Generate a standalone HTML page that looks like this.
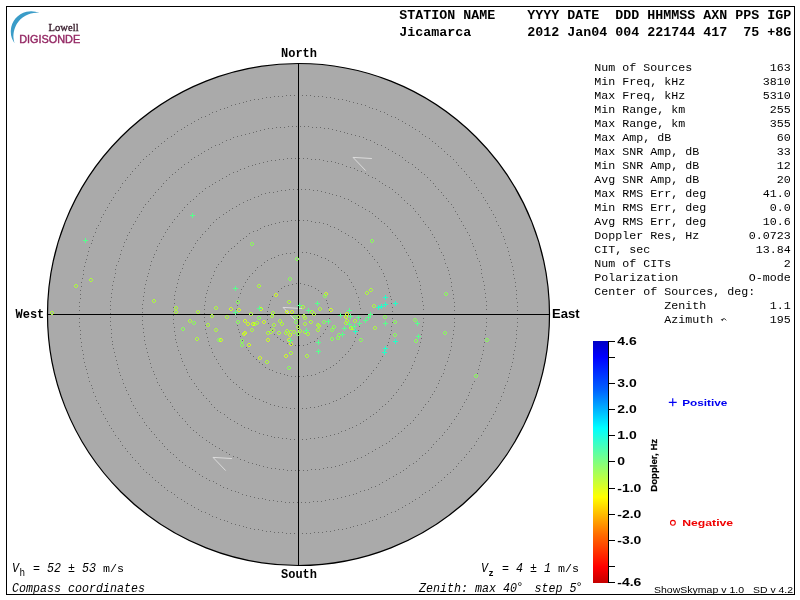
<!DOCTYPE html>
<html><head><meta charset="utf-8"><title>Skymap</title>
<style>
html,body{margin:0;padding:0;background:#fff;}
body{width:800px;height:600px;overflow:hidden;}
svg{display:block;}
text{font-family:"Liberation Mono",monospace;fill:#000;}
.hb{font-weight:bold;font-size:13.1px;}
.st{font-size:11.8px;}
.it{font-style:italic;font-size:12.9px;}
.cb{font-weight:bold;font-size:13.2px;}
.sb{font-family:"Liberation Sans",sans-serif;font-weight:bold;}
.ss{font-family:"Liberation Sans",sans-serif;}
.se{font-family:"Liberation Serif",serif;}
</style></head><body>
<svg width="800" height="600" viewBox="0 0 800 600">
<defs>
<linearGradient id="cb" x1="0" y1="0" x2="0" y2="1">
<stop offset="0" stop-color="#0000c4"/>
<stop offset="0.066" stop-color="#0000ff"/>
<stop offset="0.2" stop-color="#0060ff"/>
<stop offset="0.36" stop-color="#00ffff"/>
<stop offset="0.5" stop-color="#80ff80"/>
<stop offset="0.645" stop-color="#ffff00"/>
<stop offset="0.8" stop-color="#ff6c00"/>
<stop offset="0.934" stop-color="#ff0000"/>
<stop offset="1" stop-color="#c40000"/>
</linearGradient>
</defs>
<rect x="0" y="0" width="800" height="600" fill="#fff"/>
<g style="will-change:transform">
<rect x="6.5" y="6.5" width="788" height="588" fill="none" stroke="#000" stroke-width="1" shape-rendering="crispEdges"/>
<path d="M39.5,13 A20.3,20.3 0 0 0 14.5,43.2 A23.3,23.3 0 0 1 39.5,13 Z" fill="#3a9cc8"/>
<text class="se" x="48.6" y="30.6" font-size="10.6" style="fill:#341828;stroke:#341828;stroke-width:0.3px" textLength="30" lengthAdjust="spacingAndGlyphs">Lowell</text>
<text class="ss" x="19.2" y="42.6" font-size="10.6" style="fill:#942864;stroke:#942864;stroke-width:0.4px" textLength="61" lengthAdjust="spacingAndGlyphs">DIGISONDE</text>
<circle cx="298.5" cy="314.5" r="251.0" fill="#aaaaaa" stroke="#000" stroke-width="1.2"/>
<path d="M329,314.5h1M329,318.5h1M328,322.5h1M327,326.5h1M325,329.5h1M323,333.5h1M320,336.5h1M317,338.5h1M314,341.5h1M310,342.5h1M307,344.5h1M303,345.5h1M299,345.5h1M295,345.5h1M291,344.5h1M287,343.5h1M283,341.5h1M280,339.5h1M277,337.5h1M274,334.5h1M272,330.5h1M270,327.5h1M268,323.5h1M267,319.5h1M267,315.5h1M267,311.5h1M268,307.5h1M269,304.5h1M270,300.5h1M272,296.5h1M275,293.5h1M278,291.5h1M281,288.5h1M284,286.5h1M288,285.5h1M292,284.5h1M296,283.5h1M300,283.5h1M304,284.5h1M308,285.5h1M311,286.5h1M315,288.5h1M318,290.5h1M321,293.5h1M323,296.5h1M326,300.5h1M327,303.5h1M328,307.5h1M329,311.5h1M360,314.5h1M360,318.5h1M359,322.5h1M359,326.5h1M358,330.5h1M357,334.5h1M355,337.5h1M354,341.5h1M352,345.5h1M350,348.5h1M348,351.5h1M345,354.5h1M342,357.5h1M339,360.5h1M336,363.5h1M333,365.5h1M330,367.5h1M326,369.5h1M323,371.5h1M319,372.5h1M315,374.5h1M311,375.5h1M307,375.5h1M303,376.5h1M299,376.5h1M295,376.5h1M291,376.5h1M287,375.5h1M284,374.5h1M280,373.5h1M276,372.5h1M272,370.5h1M269,369.5h1M265,367.5h1M262,364.5h1M259,362.5h1M256,359.5h1M253,356.5h1M250,353.5h1M248,350.5h1M246,347.5h1M243,344.5h1M242,340.5h1M240,336.5h1M239,332.5h1M238,329.5h1M237,325.5h1M236,321.5h1M236,317.5h1M236,313.5h1M236,309.5h1M237,305.5h1M237,301.5h1M238,297.5h1M240,293.5h1M241,289.5h1M243,286.5h1M245,282.5h1M247,279.5h1M249,276.5h1M252,273.5h1M255,270.5h1M257,267.5h1M261,265.5h1M264,262.5h1M267,260.5h1M271,258.5h1M274,257.5h1M278,255.5h1M282,254.5h1M286,253.5h1M290,253.5h1M294,252.5h1M298,252.5h1M302,252.5h1M306,252.5h1M310,253.5h1M314,254.5h1M317,255.5h1M321,257.5h1M325,258.5h1M328,260.5h1M332,262.5h1M335,264.5h1M338,267.5h1M341,270.5h1M344,272.5h1M347,275.5h1M349,279.5h1M351,282.5h1M353,286.5h1M355,289.5h1M356,293.5h1M358,297.5h1M359,301.5h1M359,304.5h1M360,308.5h1M392,314.5h1M392,318.5h1M392,322.5h1M391,326.5h1M391,330.5h1M390,334.5h1M389,338.5h1M388,342.5h1M387,345.5h1M385,349.5h1M384,353.5h1M382,356.5h1M380,360.5h1M378,363.5h1M376,367.5h1M373,370.5h1M371,373.5h1M368,376.5h1M366,379.5h1M363,382.5h1M360,385.5h1M357,387.5h1M354,390.5h1M350,392.5h1M347,394.5h1M344,396.5h1M340,398.5h1M336,400.5h1M333,401.5h1M329,403.5h1M325,404.5h1M321,405.5h1M318,406.5h1M314,407.5h1M310,407.5h1M306,408.5h1M302,408.5h1M298,408.5h1M294,408.5h1M290,408.5h1M286,407.5h1M282,407.5h1M278,406.5h1M274,405.5h1M270,404.5h1M266,402.5h1M263,401.5h1M259,399.5h1M255,398.5h1M252,396.5h1M248,394.5h1M245,392.5h1M242,389.5h1M239,387.5h1M236,384.5h1M233,382.5h1M230,379.5h1M227,376.5h1M225,373.5h1M222,369.5h1M220,366.5h1M218,363.5h1M216,359.5h1M214,356.5h1M212,352.5h1M211,348.5h1M209,345.5h1M208,341.5h1M207,337.5h1M206,333.5h1M205,329.5h1M205,325.5h1M204,321.5h1M204,317.5h1M204,313.5h1M204,309.5h1M204,305.5h1M205,301.5h1M205,297.5h1M206,293.5h1M207,290.5h1M208,286.5h1M210,282.5h1M211,278.5h1M213,275.5h1M214,271.5h1M216,267.5h1M218,264.5h1M221,261.5h1M223,257.5h1M225,254.5h1M228,251.5h1M231,248.5h1M234,246.5h1M237,243.5h1M240,240.5h1M243,238.5h1M246,236.5h1M249,233.5h1M253,231.5h1M257,230.5h1M260,228.5h1M264,226.5h1M268,225.5h1M271,224.5h1M275,223.5h1M279,222.5h1M283,221.5h1M287,221.5h1M291,220.5h1M295,220.5h1M299,220.5h1M303,220.5h1M307,220.5h1M311,221.5h1M315,222.5h1M319,222.5h1M323,223.5h1M327,224.5h1M330,226.5h1M334,227.5h1M338,229.5h1M341,231.5h1M345,233.5h1M348,235.5h1M352,237.5h1M355,239.5h1M358,242.5h1M361,244.5h1M364,247.5h1M367,250.5h1M369,253.5h1M372,256.5h1M374,259.5h1M377,262.5h1M379,266.5h1M381,269.5h1M383,273.5h1M384,276.5h1M386,280.5h1M387,284.5h1M388,288.5h1M389,292.5h1M390,296.5h1M391,299.5h1M391,303.5h1M392,307.5h1M392,311.5h1M423,314.5h1M423,318.5h1M423,322.5h1M422,326.5h1M422,330.5h1M421,334.5h1M421,338.5h1M420,342.5h1M419,346.5h1M418,350.5h1M417,353.5h1M415,357.5h1M414,361.5h1M412,365.5h1M411,368.5h1M409,372.5h1M407,375.5h1M405,379.5h1M403,382.5h1M401,385.5h1M398,389.5h1M396,392.5h1M393,395.5h1M391,398.5h1M388,401.5h1M385,404.5h1M382,406.5h1M379,409.5h1M376,412.5h1M373,414.5h1M370,416.5h1M366,419.5h1M363,421.5h1M360,423.5h1M356,425.5h1M352,427.5h1M349,428.5h1M345,430.5h1M341,431.5h1M338,433.5h1M334,434.5h1M330,435.5h1M326,436.5h1M322,437.5h1M318,437.5h1M314,438.5h1M310,438.5h1M306,439.5h1M302,439.5h1M298,439.5h1M294,439.5h1M290,439.5h1M286,438.5h1M282,438.5h1M278,437.5h1M274,437.5h1M271,436.5h1M267,435.5h1M263,434.5h1M259,433.5h1M255,431.5h1M251,430.5h1M248,428.5h1M244,427.5h1M241,425.5h1M237,423.5h1M234,421.5h1M230,419.5h1M227,417.5h1M224,414.5h1M220,412.5h1M217,410.5h1M214,407.5h1M211,404.5h1M209,401.5h1M206,398.5h1M203,395.5h1M201,392.5h1M198,389.5h1M196,386.5h1M194,383.5h1M191,379.5h1M189,376.5h1M187,372.5h1M186,369.5h1M184,365.5h1M182,361.5h1M181,358.5h1M180,354.5h1M178,350.5h1M177,346.5h1M176,342.5h1M175,339.5h1M175,335.5h1M174,331.5h1M174,327.5h1M173,323.5h1M173,319.5h1M173,315.5h1M173,311.5h1M173,307.5h1M174,303.5h1M174,299.5h1M174,295.5h1M175,291.5h1M176,287.5h1M177,283.5h1M178,279.5h1M179,275.5h1M180,272.5h1M182,268.5h1M183,264.5h1M185,260.5h1M187,257.5h1M189,253.5h1M191,250.5h1M193,247.5h1M195,243.5h1M197,240.5h1M200,237.5h1M202,234.5h1M205,231.5h1M208,228.5h1M210,225.5h1M213,222.5h1M216,219.5h1M219,217.5h1M223,214.5h1M226,212.5h1M229,210.5h1M232,208.5h1M236,206.5h1M239,204.5h1M243,202.5h1M247,200.5h1M250,199.5h1M254,197.5h1M258,196.5h1M261,194.5h1M265,193.5h1M269,192.5h1M273,192.5h1M277,191.5h1M281,190.5h1M285,190.5h1M289,189.5h1M293,189.5h1M297,189.5h1M301,189.5h1M305,189.5h1M309,189.5h1M313,190.5h1M317,190.5h1M321,191.5h1M325,192.5h1M329,193.5h1M332,194.5h1M336,195.5h1M340,196.5h1M344,198.5h1M348,199.5h1M351,201.5h1M355,203.5h1M358,205.5h1M362,207.5h1M365,209.5h1M369,211.5h1M372,213.5h1M375,216.5h1M378,218.5h1M381,221.5h1M384,223.5h1M387,226.5h1M390,229.5h1M392,232.5h1M395,235.5h1M397,238.5h1M400,241.5h1M402,245.5h1M404,248.5h1M406,252.5h1M408,255.5h1M410,259.5h1M412,262.5h1M413,266.5h1M415,270.5h1M416,273.5h1M417,277.5h1M419,281.5h1M420,285.5h1M420,289.5h1M421,293.5h1M422,297.5h1M422,301.5h1M423,305.5h1M423,309.5h1M454,314.5h1M454,318.5h1M454,322.5h1M454,326.5h1M453,330.5h1M453,334.5h1M452,338.5h1M451,342.5h1M451,346.5h1M450,350.5h1M449,354.5h1M448,357.5h1M447,361.5h1M445,365.5h1M444,369.5h1M443,373.5h1M441,376.5h1M439,380.5h1M438,383.5h1M436,387.5h1M434,391.5h1M432,394.5h1M430,397.5h1M428,401.5h1M425,404.5h1M423,407.5h1M421,410.5h1M418,414.5h1M415,417.5h1M413,420.5h1M410,423.5h1M407,425.5h1M404,428.5h1M401,431.5h1M398,433.5h1M395,436.5h1M392,438.5h1M389,441.5h1M386,443.5h1M382,445.5h1M379,447.5h1M375,449.5h1M372,451.5h1M368,453.5h1M365,455.5h1M361,457.5h1M357,458.5h1M354,460.5h1M350,461.5h1M346,462.5h1M342,464.5h1M339,465.5h1M335,466.5h1M331,467.5h1M327,467.5h1M323,468.5h1M319,469.5h1M315,469.5h1M311,469.5h1M307,470.5h1M303,470.5h1M299,470.5h1M295,470.5h1M291,470.5h1M287,470.5h1M283,469.5h1M279,469.5h1M275,468.5h1M271,468.5h1M267,467.5h1M263,466.5h1M259,465.5h1M256,464.5h1M252,463.5h1M248,462.5h1M244,460.5h1M240,459.5h1M237,457.5h1M233,456.5h1M229,454.5h1M226,452.5h1M222,450.5h1M219,448.5h1M215,446.5h1M212,444.5h1M209,442.5h1M206,440.5h1M202,437.5h1M199,435.5h1M196,432.5h1M193,430.5h1M190,427.5h1M187,424.5h1M185,421.5h1M182,418.5h1M179,415.5h1M177,412.5h1M174,409.5h1M172,406.5h1M170,402.5h1M167,399.5h1M165,396.5h1M163,392.5h1M161,389.5h1M159,385.5h1M157,382.5h1M156,378.5h1M154,374.5h1M153,371.5h1M151,367.5h1M150,363.5h1M149,359.5h1M148,356.5h1M147,352.5h1M146,348.5h1M145,344.5h1M144,340.5h1M144,336.5h1M143,332.5h1M143,328.5h1M142,324.5h1M142,320.5h1M142,316.5h1M142,312.5h1M142,308.5h1M142,304.5h1M143,300.5h1M143,296.5h1M144,292.5h1M144,288.5h1M145,284.5h1M146,280.5h1M147,276.5h1M148,273.5h1M149,269.5h1M150,265.5h1M151,261.5h1M153,257.5h1M154,254.5h1M156,250.5h1M157,246.5h1M159,243.5h1M161,239.5h1M163,236.5h1M165,232.5h1M167,229.5h1M169,226.5h1M172,222.5h1M174,219.5h1M177,216.5h1M179,213.5h1M182,210.5h1M184,207.5h1M187,204.5h1M190,201.5h1M193,199.5h1M196,196.5h1M199,193.5h1M202,191.5h1M205,188.5h1M209,186.5h1M212,184.5h1M215,182.5h1M219,180.5h1M222,178.5h1M226,176.5h1M229,174.5h1M233,172.5h1M237,171.5h1M240,169.5h1M244,168.5h1M248,166.5h1M252,165.5h1M255,164.5h1M259,163.5h1M263,162.5h1M267,161.5h1M271,160.5h1M275,160.5h1M279,159.5h1M283,159.5h1M287,158.5h1M291,158.5h1M295,158.5h1M299,158.5h1M303,158.5h1M307,158.5h1M311,159.5h1M315,159.5h1M319,159.5h1M323,160.5h1M327,161.5h1M331,161.5h1M335,162.5h1M338,163.5h1M342,164.5h1M346,166.5h1M350,167.5h1M354,168.5h1M357,170.5h1M361,171.5h1M365,173.5h1M368,175.5h1M372,177.5h1M375,178.5h1M379,181.5h1M382,183.5h1M385,185.5h1M389,187.5h1M392,189.5h1M395,192.5h1M398,194.5h1M401,197.5h1M404,200.5h1M407,203.5h1M410,205.5h1M413,208.5h1M415,211.5h1M418,214.5h1M420,217.5h1M423,221.5h1M425,224.5h1M428,227.5h1M430,230.5h1M432,234.5h1M434,237.5h1M436,241.5h1M438,244.5h1M439,248.5h1M441,252.5h1M443,255.5h1M444,259.5h1M445,263.5h1M447,267.5h1M448,270.5h1M449,274.5h1M450,278.5h1M451,282.5h1M451,286.5h1M452,290.5h1M453,294.5h1M453,298.5h1M454,302.5h1M454,306.5h1M454,310.5h1M486,314.5h1M486,318.5h1M486,322.5h1M486,326.5h1M485,330.5h1M485,334.5h1M484,338.5h1M484,342.5h1M483,346.5h1M483,350.5h1M482,354.5h1M481,358.5h1M480,361.5h1M479,365.5h1M478,369.5h1M477,373.5h1M475,377.5h1M474,381.5h1M472,384.5h1M471,388.5h1M469,392.5h1M468,395.5h1M466,399.5h1M464,402.5h1M462,406.5h1M460,409.5h1M458,413.5h1M456,416.5h1M454,419.5h1M451,423.5h1M449,426.5h1M447,429.5h1M444,432.5h1M442,435.5h1M439,438.5h1M436,441.5h1M433,444.5h1M431,447.5h1M428,450.5h1M425,453.5h1M422,455.5h1M419,458.5h1M416,461.5h1M413,463.5h1M409,465.5h1M406,468.5h1M403,470.5h1M400,472.5h1M396,474.5h1M393,476.5h1M389,478.5h1M386,480.5h1M382,482.5h1M379,484.5h1M375,486.5h1M371,487.5h1M368,489.5h1M364,490.5h1M360,491.5h1M356,493.5h1M353,494.5h1M349,495.5h1M345,496.5h1M341,497.5h1M337,498.5h1M333,499.5h1M329,499.5h1M325,500.5h1M321,501.5h1M317,501.5h1M313,501.5h1M309,502.5h1M305,502.5h1M301,502.5h1M297,502.5h1M293,502.5h1M289,502.5h1M285,502.5h1M281,501.5h1M277,501.5h1M273,500.5h1M269,500.5h1M265,499.5h1M262,498.5h1M258,498.5h1M254,497.5h1M250,496.5h1M246,495.5h1M242,494.5h1M238,492.5h1M235,491.5h1M231,490.5h1M227,488.5h1M223,487.5h1M220,485.5h1M216,483.5h1M213,481.5h1M209,480.5h1M206,478.5h1M202,476.5h1M199,474.5h1M195,471.5h1M192,469.5h1M189,467.5h1M185,465.5h1M182,462.5h1M179,460.5h1M176,457.5h1M173,454.5h1M170,452.5h1M167,449.5h1M164,446.5h1M162,443.5h1M159,440.5h1M156,437.5h1M154,434.5h1M151,431.5h1M149,428.5h1M146,425.5h1M144,422.5h1M142,418.5h1M139,415.5h1M137,412.5h1M135,408.5h1M133,405.5h1M131,401.5h1M130,398.5h1M128,394.5h1M126,390.5h1M125,387.5h1M123,383.5h1M122,379.5h1M120,375.5h1M119,372.5h1M118,368.5h1M117,364.5h1M116,360.5h1M115,356.5h1M114,352.5h1M113,348.5h1M112,344.5h1M112,341.5h1M111,337.5h1M111,333.5h1M111,329.5h1M110,325.5h1M110,321.5h1M110,317.5h1M110,313.5h1M110,309.5h1M110,305.5h1M110,301.5h1M111,297.5h1M111,293.5h1M112,289.5h1M112,285.5h1M113,281.5h1M114,277.5h1M115,273.5h1M115,269.5h1M116,265.5h1M118,261.5h1M119,258.5h1M120,254.5h1M121,250.5h1M123,246.5h1M124,242.5h1M126,239.5h1M127,235.5h1M129,232.5h1M131,228.5h1M133,224.5h1M135,221.5h1M137,217.5h1M139,214.5h1M141,211.5h1M143,207.5h1M145,204.5h1M148,201.5h1M150,198.5h1M153,195.5h1M155,192.5h1M158,189.5h1M161,186.5h1M163,183.5h1M166,180.5h1M169,177.5h1M172,174.5h1M175,172.5h1M178,169.5h1M181,167.5h1M184,164.5h1M188,162.5h1M191,159.5h1M194,157.5h1M198,155.5h1M201,153.5h1M204,151.5h1M208,149.5h1M211,147.5h1M215,145.5h1M219,144.5h1M222,142.5h1M226,140.5h1M230,139.5h1M233,137.5h1M237,136.5h1M241,135.5h1M245,134.5h1M249,133.5h1M253,132.5h1M256,131.5h1M260,130.5h1M264,129.5h1M268,128.5h1M272,128.5h1M276,127.5h1M280,127.5h1M284,127.5h1M288,126.5h1M292,126.5h1M296,126.5h1M300,126.5h1M304,126.5h1M308,126.5h1M312,127.5h1M316,127.5h1M320,127.5h1M324,128.5h1M328,128.5h1M332,129.5h1M336,130.5h1M340,131.5h1M344,132.5h1M347,133.5h1M351,134.5h1M355,135.5h1M359,136.5h1M363,137.5h1M366,139.5h1M370,140.5h1M374,142.5h1M377,144.5h1M381,145.5h1M385,147.5h1M388,149.5h1M392,151.5h1M395,153.5h1M399,155.5h1M402,157.5h1M405,160.5h1M408,162.5h1M412,164.5h1M415,167.5h1M418,169.5h1M421,172.5h1M424,174.5h1M427,177.5h1M430,180.5h1M433,183.5h1M435,186.5h1M438,189.5h1M441,192.5h1M443,195.5h1M446,198.5h1M448,201.5h1M451,204.5h1M453,207.5h1M455,211.5h1M457,214.5h1M459,218.5h1M461,221.5h1M463,225.5h1M465,228.5h1M467,232.5h1M469,235.5h1M470,239.5h1M472,243.5h1M473,246.5h1M475,250.5h1M476,254.5h1M477,258.5h1M479,261.5h1M480,265.5h1M481,269.5h1M481,273.5h1M482,277.5h1M483,281.5h1M484,285.5h1M484,289.5h1M485,293.5h1M485,297.5h1M486,301.5h1M486,305.5h1M486,309.5h1M517,314.5h1M517,318.5h1M517,322.5h1M517,326.5h1M516,330.5h1M516,334.5h1M516,338.5h1M515,342.5h1M515,346.5h1M514,350.5h1M513,354.5h1M513,358.5h1M512,362.5h1M511,366.5h1M510,369.5h1M509,373.5h1M508,377.5h1M507,381.5h1M505,385.5h1M504,388.5h1M503,392.5h1M501,396.5h1M500,400.5h1M498,403.5h1M496,407.5h1M495,411.5h1M493,414.5h1M491,418.5h1M489,421.5h1M487,425.5h1M485,428.5h1M483,431.5h1M481,435.5h1M478,438.5h1M476,441.5h1M474,445.5h1M471,448.5h1M469,451.5h1M466,454.5h1M464,457.5h1M461,460.5h1M458,463.5h1M456,466.5h1M453,469.5h1M450,472.5h1M447,474.5h1M444,477.5h1M441,480.5h1M438,482.5h1M435,485.5h1M432,487.5h1M429,490.5h1M425,492.5h1M422,494.5h1M419,497.5h1M415,499.5h1M412,501.5h1M409,503.5h1M405,505.5h1M402,507.5h1M398,509.5h1M395,511.5h1M391,512.5h1M387,514.5h1M384,516.5h1M380,517.5h1M376,519.5h1M372,520.5h1M369,521.5h1M365,523.5h1M361,524.5h1M357,525.5h1M353,526.5h1M350,527.5h1M346,528.5h1M342,529.5h1M338,529.5h1M334,530.5h1M330,531.5h1M326,531.5h1M322,532.5h1M318,532.5h1M314,532.5h1M310,533.5h1M306,533.5h1M302,533.5h1M298,533.5h1M294,533.5h1M290,533.5h1M286,533.5h1M282,532.5h1M278,532.5h1M274,532.5h1M270,531.5h1M266,531.5h1M262,530.5h1M258,529.5h1M254,529.5h1M250,528.5h1M246,527.5h1M243,526.5h1M239,525.5h1M235,524.5h1M231,523.5h1M227,521.5h1M224,520.5h1M220,519.5h1M216,517.5h1M212,516.5h1M209,514.5h1M205,512.5h1M201,511.5h1M198,509.5h1M194,507.5h1M191,505.5h1M187,503.5h1M184,501.5h1M181,499.5h1M177,497.5h1M174,494.5h1M171,492.5h1M167,490.5h1M164,487.5h1M161,485.5h1M158,482.5h1M155,480.5h1M152,477.5h1M149,474.5h1M146,472.5h1M143,469.5h1M140,466.5h1M138,463.5h1M135,460.5h1M132,457.5h1M130,454.5h1M127,451.5h1M125,448.5h1M122,445.5h1M120,441.5h1M118,438.5h1M115,435.5h1M113,431.5h1M111,428.5h1M109,425.5h1M107,421.5h1M105,418.5h1M103,414.5h1M101,411.5h1M100,407.5h1M98,403.5h1M96,400.5h1M95,396.5h1M93,392.5h1M92,388.5h1M91,385.5h1M89,381.5h1M88,377.5h1M87,373.5h1M86,369.5h1M85,366.5h1M84,362.5h1M83,358.5h1M83,354.5h1M82,350.5h1M81,346.5h1M81,342.5h1M80,338.5h1M80,334.5h1M80,330.5h1M79,326.5h1M79,322.5h1M79,318.5h1M79,314.5h1M79,310.5h1M79,306.5h1M79,302.5h1M80,298.5h1M80,294.5h1M80,290.5h1M81,286.5h1M81,282.5h1M82,278.5h1M83,274.5h1M83,270.5h1M84,266.5h1M85,262.5h1M86,259.5h1M87,255.5h1M88,251.5h1M89,247.5h1M91,243.5h1M92,240.5h1M93,236.5h1M95,232.5h1M96,228.5h1M98,225.5h1M100,221.5h1M101,217.5h1M103,214.5h1M105,210.5h1M107,207.5h1M109,203.5h1M111,200.5h1M113,197.5h1M115,193.5h1M118,190.5h1M120,187.5h1M122,183.5h1M125,180.5h1M127,177.5h1M130,174.5h1M132,171.5h1M135,168.5h1M138,165.5h1M140,162.5h1M143,159.5h1M146,156.5h1M149,154.5h1M152,151.5h1M155,148.5h1M158,146.5h1M161,143.5h1M164,141.5h1M167,138.5h1M171,136.5h1M174,134.5h1M177,131.5h1M181,129.5h1M184,127.5h1M187,125.5h1M191,123.5h1M194,121.5h1M198,119.5h1M201,117.5h1M205,116.5h1M209,114.5h1M212,112.5h1M216,111.5h1M220,109.5h1M224,108.5h1M227,107.5h1M231,105.5h1M235,104.5h1M239,103.5h1M243,102.5h1M246,101.5h1M250,100.5h1M254,99.5h1M258,99.5h1M262,98.5h1M266,97.5h1M270,97.5h1M274,96.5h1M278,96.5h1M282,96.5h1M286,95.5h1M290,95.5h1M294,95.5h1M298,95.5h1M302,95.5h1M306,95.5h1M310,95.5h1M314,96.5h1M318,96.5h1M322,96.5h1M326,97.5h1M330,97.5h1M334,98.5h1M338,99.5h1M342,99.5h1M346,100.5h1M349,101.5h1M353,102.5h1M357,103.5h1M361,104.5h1M365,105.5h1M369,107.5h1M372,108.5h1M376,109.5h1M380,111.5h1M384,112.5h1M387,114.5h1M391,116.5h1M395,117.5h1M398,119.5h1M402,121.5h1M405,123.5h1M409,125.5h1M412,127.5h1M415,129.5h1M419,131.5h1M422,134.5h1M425,136.5h1M429,138.5h1M432,141.5h1M435,143.5h1M438,146.5h1M441,148.5h1M444,151.5h1M447,154.5h1M450,156.5h1M453,159.5h1M456,162.5h1M458,165.5h1M461,168.5h1M464,171.5h1M466,174.5h1M469,177.5h1M471,180.5h1M474,183.5h1M476,187.5h1M478,190.5h1M481,193.5h1M483,197.5h1M485,200.5h1M487,203.5h1M489,207.5h1M491,210.5h1M493,214.5h1M495,217.5h1M496,221.5h1M498,225.5h1M500,228.5h1M501,232.5h1M503,236.5h1M504,239.5h1M505,243.5h1M507,247.5h1M508,251.5h1M509,255.5h1M510,259.5h1M511,262.5h1M512,266.5h1M513,270.5h1M513,274.5h1M514,278.5h1M515,282.5h1M515,286.5h1M516,290.5h1M516,294.5h1M516,298.5h1M517,302.5h1M517,306.5h1M517,310.5h1" fill="none" stroke="#6a6a6a" stroke-width="1" shape-rendering="crispEdges"/>
<polyline points="371.9,158.5 353,157.4 365.7,170.6" fill="none" stroke="#dcdcdc" stroke-width="1"/>
<polyline points="301.9,308.5 283,307.4 295.7,320.6" fill="none" stroke="#dcdcdc" stroke-width="1"/>
<polyline points="231.9,458.5 213,457.4 225.7,470.6" fill="none" stroke="#dcdcdc" stroke-width="1"/>
<g shape-rendering="crispEdges" stroke="#000" stroke-width="1">
<line x1="47" y1="314.5" x2="550" y2="314.5"/>
<line x1="298.5" y1="63" x2="298.5" y2="566"/>
</g>
<g shape-rendering="crispEdges">
<path d="M230,307h2v1h-2zM229,308h1v2h-1zM232,308h1v2h-1zM230,310h2v1h-2zM238,308h2v1h-2zM237,309h1v2h-1zM240,309h1v2h-1zM238,311h2v1h-2zM220,338h2v1h-2zM219,339h1v2h-1zM222,339h1v2h-1zM220,341h2v1h-2zM275,293h2v1h-2zM274,294h1v2h-1zM277,294h1v2h-1zM275,296h2v1h-2zM325,292h2v1h-2zM324,293h1v2h-1zM327,293h1v2h-1zM325,295h2v1h-2zM260,307h2v1h-2zM259,308h1v2h-1zM262,308h1v2h-1zM260,310h2v1h-2zM286,310h2v1h-2zM285,311h1v2h-1zM288,311h1v2h-1zM286,313h2v1h-2zM291,310h2v1h-2zM290,311h1v2h-1zM293,311h1v2h-1zM291,313h2v1h-2zM244,319h2v1h-2zM243,320h1v2h-1zM246,320h1v2h-1zM244,322h2v1h-2zM247,322h2v1h-2zM246,323h1v2h-1zM249,323h1v2h-1zM247,325h2v1h-2zM252,322h2v1h-2zM251,323h1v2h-1zM254,323h1v2h-1zM252,325h2v1h-2zM263,320h2v1h-2zM262,321h1v2h-1zM265,321h1v2h-1zM263,323h2v1h-2zM244,331h2v1h-2zM243,332h1v2h-1zM246,332h1v2h-1zM244,334h2v1h-2zM243,332h2v1h-2zM242,333h1v2h-1zM245,333h1v2h-1zM243,335h2v1h-2zM289,333h2v1h-2zM288,334h1v2h-1zM291,334h1v2h-1zM289,336h2v1h-2zM267,338h2v1h-2zM266,339h1v2h-1zM269,339h1v2h-1zM267,341h2v1h-2zM288,338h2v1h-2zM287,339h1v2h-1zM290,339h1v2h-1zM288,341h2v1h-2zM290,342h2v1h-2zM289,343h1v2h-1zM292,343h1v2h-1zM290,345h2v1h-2zM248,343h2v1h-2zM247,344h1v2h-1zM250,344h1v2h-1zM248,346h2v1h-2zM330,308h2v1h-2zM329,309h1v2h-1zM332,309h1v2h-1zM330,311h2v1h-2zM346,312h2v1h-2zM345,313h1v2h-1zM348,313h1v2h-1zM346,315h2v1h-2zM345,315h2v1h-2zM344,316h1v2h-1zM347,316h1v2h-1zM345,318h2v1h-2zM285,354h2v1h-2zM284,355h1v2h-1zM287,355h1v2h-1zM285,357h2v1h-2zM259,356h2v1h-2zM258,357h1v2h-1zM261,357h1v2h-1zM259,359h2v1h-2z" fill="#ccfc24"/>
<path d="M90,278h2v1h-2zM89,279h1v2h-1zM92,279h1v2h-1zM90,281h2v1h-2zM75,284h2v1h-2zM74,285h1v2h-1zM77,285h1v2h-1zM75,287h2v1h-2zM51,311h2v1h-2zM50,312h1v2h-1zM53,312h1v2h-1zM51,314h2v1h-2zM153,299h2v1h-2zM152,300h1v2h-1zM155,300h1v2h-1zM153,302h2v1h-2zM175,306h2v1h-2zM174,307h1v2h-1zM177,307h1v2h-1zM175,309h2v1h-2zM175,310h2v1h-2zM174,311h1v2h-1zM177,311h1v2h-1zM175,313h2v1h-2zM197,310h2v1h-2zM196,311h1v2h-1zM199,311h1v2h-1zM197,313h2v1h-2zM215,306h2v1h-2zM214,307h1v2h-1zM217,307h1v2h-1zM215,309h2v1h-2zM211,314h2v1h-2zM210,315h1v2h-1zM213,315h1v2h-1zM211,317h2v1h-2zM226,315h2v1h-2zM225,316h1v2h-1zM228,316h1v2h-1zM226,318h2v1h-2zM189,319h2v1h-2zM188,320h1v2h-1zM191,320h1v2h-1zM189,322h2v1h-2zM207,323h2v1h-2zM206,324h1v2h-1zM209,324h1v2h-1zM207,326h2v1h-2zM215,328h2v1h-2zM214,329h1v2h-1zM217,329h1v2h-1zM215,331h2v1h-2zM196,337h2v1h-2zM195,338h1v2h-1zM198,338h1v2h-1zM196,340h2v1h-2zM258,284h2v1h-2zM257,285h1v2h-1zM260,285h1v2h-1zM258,287h2v1h-2zM288,300h2v1h-2zM287,301h1v2h-1zM290,301h1v2h-1zM288,303h2v1h-2zM302,305h2v1h-2zM301,306h1v2h-1zM304,306h1v2h-1zM302,308h2v1h-2zM250,312h2v1h-2zM249,313h1v2h-1zM252,313h1v2h-1zM250,315h2v1h-2zM272,311h2v1h-2zM271,312h1v2h-1zM274,312h1v2h-1zM272,314h2v1h-2zM271,314h2v1h-2zM270,315h1v2h-1zM273,315h1v2h-1zM271,317h2v1h-2zM311,310h2v1h-2zM310,311h1v2h-1zM313,311h1v2h-1zM311,313h2v1h-2zM313,312h2v1h-2zM312,313h1v2h-1zM315,313h1v2h-1zM313,315h2v1h-2zM319,307h2v1h-2zM318,308h1v2h-1zM321,308h1v2h-1zM319,310h2v1h-2zM254,322h2v1h-2zM253,323h1v2h-1zM256,323h1v2h-1zM254,325h2v1h-2zM256,321h2v1h-2zM255,322h1v2h-1zM258,322h1v2h-1zM256,324h2v1h-2zM279,319h2v1h-2zM278,320h1v2h-1zM281,320h1v2h-1zM279,322h2v1h-2zM281,322h2v1h-2zM280,323h1v2h-1zM283,323h1v2h-1zM281,325h2v1h-2zM273,323h2v1h-2zM272,324h1v2h-1zM275,324h1v2h-1zM273,326h2v1h-2zM297,315h2v1h-2zM296,316h1v2h-1zM299,316h1v2h-1zM297,318h2v1h-2zM303,314h2v1h-2zM302,315h1v2h-1zM305,315h1v2h-1zM303,317h2v1h-2zM304,316h2v1h-2zM303,317h1v2h-1zM306,317h1v2h-1zM304,319h2v1h-2zM310,320h2v1h-2zM309,321h1v2h-1zM312,321h1v2h-1zM310,323h2v1h-2zM304,322h2v1h-2zM303,323h1v2h-1zM306,323h1v2h-1zM304,325h2v1h-2zM317,323h2v1h-2zM316,324h1v2h-1zM319,324h1v2h-1zM317,326h2v1h-2zM318,324h2v1h-2zM317,325h1v2h-1zM320,325h1v2h-1zM318,327h2v1h-2zM317,328h2v1h-2zM316,329h1v2h-1zM319,329h1v2h-1zM317,331h2v1h-2zM297,325h2v1h-2zM296,326h1v2h-1zM299,326h1v2h-1zM297,328h2v1h-2zM251,328h2v1h-2zM250,329h1v2h-1zM253,329h1v2h-1zM251,331h2v1h-2zM272,328h2v1h-2zM271,329h1v2h-1zM274,329h1v2h-1zM272,331h2v1h-2zM270,330h2v1h-2zM269,331h1v2h-1zM272,331h1v2h-1zM270,333h2v1h-2zM267,331h2v1h-2zM266,332h1v2h-1zM269,332h1v2h-1zM267,334h2v1h-2zM278,331h2v1h-2zM277,332h1v2h-1zM280,332h1v2h-1zM278,334h2v1h-2zM286,329h2v1h-2zM285,330h1v2h-1zM288,330h1v2h-1zM286,332h2v1h-2zM285,331h2v1h-2zM284,332h1v2h-1zM287,332h1v2h-1zM285,334h2v1h-2zM290,330h2v1h-2zM289,331h1v2h-1zM292,331h1v2h-1zM290,333h2v1h-2zM293,330h2v1h-2zM292,331h1v2h-1zM295,331h1v2h-1zM293,333h2v1h-2zM299,329h2v1h-2zM298,330h1v2h-1zM301,330h1v2h-1zM299,332h2v1h-2zM304,330h2v1h-2zM303,331h1v2h-1zM306,331h1v2h-1zM304,333h2v1h-2zM307,332h2v1h-2zM306,333h1v2h-1zM309,333h1v2h-1zM307,335h2v1h-2zM366,291h2v1h-2zM365,292h1v2h-1zM368,292h1v2h-1zM366,294h2v1h-2zM370,288h2v1h-2zM369,289h1v2h-1zM372,289h1v2h-1zM370,291h2v1h-2zM373,304h2v1h-2zM372,305h1v2h-1zM375,305h1v2h-1zM373,307h2v1h-2zM346,319h2v1h-2zM345,320h1v2h-1zM348,320h1v2h-1zM346,322h2v1h-2zM345,321h2v1h-2zM344,322h1v2h-1zM347,322h1v2h-1zM345,324h2v1h-2zM354,319h2v1h-2zM353,320h1v2h-1zM356,320h1v2h-1zM354,322h2v1h-2zM350,326h2v1h-2zM349,327h1v2h-1zM352,327h1v2h-1zM350,329h2v1h-2zM352,326h2v1h-2zM351,327h1v2h-1zM354,327h1v2h-1zM352,329h2v1h-2zM374,326h2v1h-2zM373,327h1v2h-1zM376,327h1v2h-1zM374,329h2v1h-2zM290,351h2v1h-2zM289,352h1v2h-1zM292,352h1v2h-1zM290,354h2v1h-2zM306,354h2v1h-2zM305,355h1v2h-1zM308,355h1v2h-1zM306,357h2v1h-2zM266,360h2v1h-2zM265,361h1v2h-1zM268,361h1v2h-1zM266,363h2v1h-2z" fill="#acfa3c"/>
<path d="M237,300h2v1h-2zM236,301h1v2h-1zM239,301h1v2h-1zM237,303h2v1h-2zM193,321h2v1h-2zM192,322h1v2h-1zM195,322h1v2h-1zM193,324h2v1h-2zM182,327h2v1h-2zM181,328h1v2h-1zM184,328h1v2h-1zM182,330h2v1h-2zM218,338h2v1h-2zM217,339h1v2h-1zM220,339h1v2h-1zM218,341h2v1h-2zM237,320h2v1h-2zM236,321h1v2h-1zM239,321h1v2h-1zM237,323h2v1h-2zM289,277h2v1h-2zM288,278h1v2h-1zM291,278h1v2h-1zM289,280h2v1h-2zM324,294h2v1h-2zM323,295h1v2h-1zM326,295h1v2h-1zM324,297h2v1h-2zM258,316h2v1h-2zM257,317h1v2h-1zM260,317h1v2h-1zM258,319h2v1h-2zM294,315h2v1h-2zM293,316h1v2h-1zM296,316h1v2h-1zM294,318h2v1h-2zM295,320h2v1h-2zM294,321h1v2h-1zM297,321h1v2h-1zM295,323h2v1h-2zM323,320h2v1h-2zM322,321h1v2h-1zM325,321h1v2h-1zM323,323h2v1h-2zM297,332h2v1h-2zM296,333h1v2h-1zM299,333h1v2h-1zM297,335h2v1h-2zM241,339h2v1h-2zM240,340h1v2h-1zM243,340h1v2h-1zM241,342h2v1h-2zM241,343h2v1h-2zM240,344h1v2h-1zM243,344h1v2h-1zM241,346h2v1h-2zM384,315h2v1h-2zM383,316h1v2h-1zM386,316h1v2h-1zM384,318h2v1h-2zM333,325h2v1h-2zM332,326h1v2h-1zM335,326h1v2h-1zM333,328h2v1h-2zM331,328h2v1h-2zM330,329h1v2h-1zM333,329h1v2h-1zM331,331h2v1h-2zM394,320h2v1h-2zM393,321h1v2h-1zM396,321h1v2h-1zM394,323h2v1h-2zM394,333h2v1h-2zM393,334h1v2h-1zM396,334h1v2h-1zM394,336h2v1h-2zM414,318h2v1h-2zM413,319h1v2h-1zM416,319h1v2h-1zM414,321h2v1h-2zM415,339h2v1h-2zM414,340h1v2h-1zM417,340h1v2h-1zM415,342h2v1h-2zM338,333h2v1h-2zM337,334h1v2h-1zM340,334h1v2h-1zM338,336h2v1h-2zM337,336h2v1h-2zM336,337h1v2h-1zM339,337h1v2h-1zM337,339h2v1h-2zM331,337h2v1h-2zM330,338h1v2h-1zM333,338h1v2h-1zM331,340h2v1h-2zM360,338h2v1h-2zM359,339h1v2h-1zM362,339h1v2h-1zM360,341h2v1h-2zM445,292h2v1h-2zM444,293h1v2h-1zM447,293h1v2h-1zM445,295h2v1h-2zM444,331h2v1h-2zM443,332h1v2h-1zM446,332h1v2h-1zM444,334h2v1h-2zM486,338h2v1h-2zM485,339h1v2h-1zM488,339h1v2h-1zM486,341h2v1h-2zM475,374h2v1h-2zM474,375h1v2h-1zM477,375h1v2h-1zM475,377h2v1h-2zM251,242h2v1h-2zM250,243h1v2h-1zM253,243h1v2h-1zM251,245h2v1h-2zM296,257h2v1h-2zM295,258h1v2h-1zM298,258h1v2h-1zM296,260h2v1h-2zM371,239h2v1h-2zM370,240h1v2h-1zM373,240h1v2h-1zM371,242h2v1h-2zM288,366h2v1h-2zM287,367h1v2h-1zM290,367h1v2h-1zM288,369h2v1h-2z" fill="#88fe58"/>
<path d="M85,238h1v5h-1zM83,240h5v1h-5zM192,213h1v5h-1zM190,215h5v1h-5zM235,286h1v5h-1zM233,288h5v1h-5zM235,310h1v5h-1zM233,312h5v1h-5zM299,303h1v5h-1zM297,305h5v1h-5zM317,301h1v5h-1zM315,303h5v1h-5zM259,306h1v5h-1zM257,308h5v1h-5zM308,308h1v5h-1zM306,310h5v1h-5zM328,319h1v5h-1zM326,321h5v1h-5zM306,328h1v5h-1zM304,330h5v1h-5zM290,338h1v5h-1zM288,340h5v1h-5zM318,340h1v5h-1zM316,342h5v1h-5zM318,349h1v5h-1zM316,351h5v1h-5zM349,308h1v5h-1zM347,310h5v1h-5zM340,313h1v5h-1zM338,315h5v1h-5zM350,314h1v5h-1zM348,316h5v1h-5zM358,315h1v5h-1zM356,317h5v1h-5zM370,312h1v5h-1zM368,314h5v1h-5zM368,315h1v5h-1zM366,317h5v1h-5zM365,318h1v5h-1zM363,320h5v1h-5zM359,321h1v5h-1zM357,323h5v1h-5zM349,322h1v5h-1zM347,324h5v1h-5zM354,324h1v5h-1zM352,326h5v1h-5zM344,326h1v5h-1zM342,328h5v1h-5zM385,321h1v5h-1zM383,323h5v1h-5zM417,321h1v5h-1zM415,323h5v1h-5zM418,334h1v5h-1zM416,336h5v1h-5zM342,332h1v5h-1zM340,334h5v1h-5z" fill="#58ff8c"/>
<path d="M385,295h1v5h-1zM383,297h5v1h-5zM395,301h1v5h-1zM393,303h5v1h-5zM385,302h1v5h-1zM383,304h5v1h-5zM381,304h1v5h-1zM379,306h5v1h-5zM378,305h1v5h-1zM376,307h5v1h-5zM355,329h1v5h-1zM353,331h5v1h-5zM395,339h1v5h-1zM393,341h5v1h-5zM385,346h1v5h-1zM383,348h5v1h-5zM384,350h1v5h-1zM382,352h5v1h-5z" fill="#22ffc8"/>
</g>
<text class="cb" x="281" y="57" textLength="36" lengthAdjust="spacingAndGlyphs">North</text>
<text class="cb" x="281" y="578" textLength="36" lengthAdjust="spacingAndGlyphs">South</text>
<text class="cb" x="15.5" y="318" textLength="28.8" lengthAdjust="spacingAndGlyphs">West</text>
<text class="sb" x="552" y="318" font-size="12.2" textLength="27.5" lengthAdjust="spacingAndGlyphs">East</text>
<text class="hb" x="399.30" y="19" textLength="56.00" lengthAdjust="spacingAndGlyphs">STATION</text>
<text class="hb" x="463.30" y="19" textLength="32.00" lengthAdjust="spacingAndGlyphs">NAME</text>
<text class="hb" x="527.30" y="19" textLength="32.00" lengthAdjust="spacingAndGlyphs">YYYY</text>
<text class="hb" x="567.30" y="19" textLength="32.00" lengthAdjust="spacingAndGlyphs">DATE</text>
<text class="hb" x="615.30" y="19" textLength="24.00" lengthAdjust="spacingAndGlyphs">DDD</text>
<text class="hb" x="647.30" y="19" textLength="48.00" lengthAdjust="spacingAndGlyphs">HHMMSS</text>
<text class="hb" x="703.30" y="19" textLength="24.00" lengthAdjust="spacingAndGlyphs">AXN</text>
<text class="hb" x="735.30" y="19" textLength="24.00" lengthAdjust="spacingAndGlyphs">PPS</text>
<text class="hb" x="767.30" y="19" textLength="24.00" lengthAdjust="spacingAndGlyphs">IGP</text>
<text class="hb" x="399.30" y="35.6" textLength="72.00" lengthAdjust="spacingAndGlyphs">Jicamarca</text>
<text class="hb" x="527.30" y="35.6" textLength="32.00" lengthAdjust="spacingAndGlyphs">2012</text>
<text class="hb" x="567.30" y="35.6" textLength="40.00" lengthAdjust="spacingAndGlyphs">Jan04</text>
<text class="hb" x="615.30" y="35.6" textLength="24.00" lengthAdjust="spacingAndGlyphs">004</text>
<text class="hb" x="647.30" y="35.6" textLength="48.00" lengthAdjust="spacingAndGlyphs">221744</text>
<text class="hb" x="703.30" y="35.6" textLength="24.00" lengthAdjust="spacingAndGlyphs">417</text>
<text class="hb" x="743.30" y="35.6" textLength="16.00" lengthAdjust="spacingAndGlyphs">75</text>
<text class="hb" x="767.30" y="35.6" textLength="24.00" lengthAdjust="spacingAndGlyphs">+8G</text>
<text class="st" x="594.20" y="71" textLength="21.00" lengthAdjust="spacingAndGlyphs">Num</text>
<text class="st" x="622.20" y="71" textLength="14.00" lengthAdjust="spacingAndGlyphs">of</text>
<text class="st" x="643.20" y="71" textLength="49.00" lengthAdjust="spacingAndGlyphs">Sources</text>
<text class="st" x="769.70" y="71" textLength="21.00" lengthAdjust="spacingAndGlyphs">163</text>
<text class="st" x="594.20" y="85" textLength="21.00" lengthAdjust="spacingAndGlyphs">Min</text>
<text class="st" x="622.20" y="85" textLength="35.00" lengthAdjust="spacingAndGlyphs">Freq,</text>
<text class="st" x="664.20" y="85" textLength="21.00" lengthAdjust="spacingAndGlyphs">kHz</text>
<text class="st" x="762.70" y="85" textLength="28.00" lengthAdjust="spacingAndGlyphs">3810</text>
<text class="st" x="594.20" y="99" textLength="21.00" lengthAdjust="spacingAndGlyphs">Max</text>
<text class="st" x="622.20" y="99" textLength="35.00" lengthAdjust="spacingAndGlyphs">Freq,</text>
<text class="st" x="664.20" y="99" textLength="21.00" lengthAdjust="spacingAndGlyphs">kHz</text>
<text class="st" x="762.70" y="99" textLength="28.00" lengthAdjust="spacingAndGlyphs">5310</text>
<text class="st" x="594.20" y="113" textLength="21.00" lengthAdjust="spacingAndGlyphs">Min</text>
<text class="st" x="622.20" y="113" textLength="42.00" lengthAdjust="spacingAndGlyphs">Range,</text>
<text class="st" x="671.20" y="113" textLength="14.00" lengthAdjust="spacingAndGlyphs">km</text>
<text class="st" x="769.70" y="113" textLength="21.00" lengthAdjust="spacingAndGlyphs">255</text>
<text class="st" x="594.20" y="127" textLength="21.00" lengthAdjust="spacingAndGlyphs">Max</text>
<text class="st" x="622.20" y="127" textLength="42.00" lengthAdjust="spacingAndGlyphs">Range,</text>
<text class="st" x="671.20" y="127" textLength="14.00" lengthAdjust="spacingAndGlyphs">km</text>
<text class="st" x="769.70" y="127" textLength="21.00" lengthAdjust="spacingAndGlyphs">355</text>
<text class="st" x="594.20" y="141" textLength="21.00" lengthAdjust="spacingAndGlyphs">Max</text>
<text class="st" x="622.20" y="141" textLength="28.00" lengthAdjust="spacingAndGlyphs">Amp,</text>
<text class="st" x="657.20" y="141" textLength="14.00" lengthAdjust="spacingAndGlyphs">dB</text>
<text class="st" x="776.70" y="141" textLength="14.00" lengthAdjust="spacingAndGlyphs">60</text>
<text class="st" x="594.20" y="155" textLength="21.00" lengthAdjust="spacingAndGlyphs">Max</text>
<text class="st" x="622.20" y="155" textLength="21.00" lengthAdjust="spacingAndGlyphs">SNR</text>
<text class="st" x="650.20" y="155" textLength="28.00" lengthAdjust="spacingAndGlyphs">Amp,</text>
<text class="st" x="685.20" y="155" textLength="14.00" lengthAdjust="spacingAndGlyphs">dB</text>
<text class="st" x="776.70" y="155" textLength="14.00" lengthAdjust="spacingAndGlyphs">33</text>
<text class="st" x="594.20" y="169" textLength="21.00" lengthAdjust="spacingAndGlyphs">Min</text>
<text class="st" x="622.20" y="169" textLength="21.00" lengthAdjust="spacingAndGlyphs">SNR</text>
<text class="st" x="650.20" y="169" textLength="28.00" lengthAdjust="spacingAndGlyphs">Amp,</text>
<text class="st" x="685.20" y="169" textLength="14.00" lengthAdjust="spacingAndGlyphs">dB</text>
<text class="st" x="776.70" y="169" textLength="14.00" lengthAdjust="spacingAndGlyphs">12</text>
<text class="st" x="594.20" y="183" textLength="21.00" lengthAdjust="spacingAndGlyphs">Avg</text>
<text class="st" x="622.20" y="183" textLength="21.00" lengthAdjust="spacingAndGlyphs">SNR</text>
<text class="st" x="650.20" y="183" textLength="28.00" lengthAdjust="spacingAndGlyphs">Amp,</text>
<text class="st" x="685.20" y="183" textLength="14.00" lengthAdjust="spacingAndGlyphs">dB</text>
<text class="st" x="776.70" y="183" textLength="14.00" lengthAdjust="spacingAndGlyphs">20</text>
<text class="st" x="594.20" y="197" textLength="21.00" lengthAdjust="spacingAndGlyphs">Max</text>
<text class="st" x="622.20" y="197" textLength="21.00" lengthAdjust="spacingAndGlyphs">RMS</text>
<text class="st" x="650.20" y="197" textLength="28.00" lengthAdjust="spacingAndGlyphs">Err,</text>
<text class="st" x="685.20" y="197" textLength="21.00" lengthAdjust="spacingAndGlyphs">deg</text>
<text class="st" x="762.70" y="197" textLength="28.00" lengthAdjust="spacingAndGlyphs">41.0</text>
<text class="st" x="594.20" y="211" textLength="21.00" lengthAdjust="spacingAndGlyphs">Min</text>
<text class="st" x="622.20" y="211" textLength="21.00" lengthAdjust="spacingAndGlyphs">RMS</text>
<text class="st" x="650.20" y="211" textLength="28.00" lengthAdjust="spacingAndGlyphs">Err,</text>
<text class="st" x="685.20" y="211" textLength="21.00" lengthAdjust="spacingAndGlyphs">deg</text>
<text class="st" x="769.70" y="211" textLength="21.00" lengthAdjust="spacingAndGlyphs">0.0</text>
<text class="st" x="594.20" y="225" textLength="21.00" lengthAdjust="spacingAndGlyphs">Avg</text>
<text class="st" x="622.20" y="225" textLength="21.00" lengthAdjust="spacingAndGlyphs">RMS</text>
<text class="st" x="650.20" y="225" textLength="28.00" lengthAdjust="spacingAndGlyphs">Err,</text>
<text class="st" x="685.20" y="225" textLength="21.00" lengthAdjust="spacingAndGlyphs">deg</text>
<text class="st" x="762.70" y="225" textLength="28.00" lengthAdjust="spacingAndGlyphs">10.6</text>
<text class="st" x="594.20" y="239" textLength="49.00" lengthAdjust="spacingAndGlyphs">Doppler</text>
<text class="st" x="650.20" y="239" textLength="28.00" lengthAdjust="spacingAndGlyphs">Res,</text>
<text class="st" x="685.20" y="239" textLength="14.00" lengthAdjust="spacingAndGlyphs">Hz</text>
<text class="st" x="748.70" y="239" textLength="42.00" lengthAdjust="spacingAndGlyphs">0.0723</text>
<text class="st" x="594.20" y="253" textLength="28.00" lengthAdjust="spacingAndGlyphs">CIT,</text>
<text class="st" x="629.20" y="253" textLength="21.00" lengthAdjust="spacingAndGlyphs">sec</text>
<text class="st" x="755.70" y="253" textLength="35.00" lengthAdjust="spacingAndGlyphs">13.84</text>
<text class="st" x="594.20" y="267" textLength="21.00" lengthAdjust="spacingAndGlyphs">Num</text>
<text class="st" x="622.20" y="267" textLength="14.00" lengthAdjust="spacingAndGlyphs">of</text>
<text class="st" x="643.20" y="267" textLength="28.00" lengthAdjust="spacingAndGlyphs">CITs</text>
<text class="st" x="783.70" y="267" textLength="7.00" lengthAdjust="spacingAndGlyphs">2</text>
<text class="st" x="594.20" y="281" textLength="84.00" lengthAdjust="spacingAndGlyphs">Polarization</text>
<text class="st" x="748.70" y="281" textLength="42.00" lengthAdjust="spacingAndGlyphs">O-mode</text>
<text class="st" x="594.20" y="295" textLength="42.00" lengthAdjust="spacingAndGlyphs">Center</text>
<text class="st" x="643.20" y="295" textLength="14.00" lengthAdjust="spacingAndGlyphs">of</text>
<text class="st" x="664.20" y="295" textLength="56.00" lengthAdjust="spacingAndGlyphs">Sources,</text>
<text class="st" x="727.20" y="295" textLength="28.00" lengthAdjust="spacingAndGlyphs">deg:</text>
<text class="st" x="664.20" y="309" textLength="42.00" lengthAdjust="spacingAndGlyphs">Zenith</text>
<text class="st" x="769.70" y="309" textLength="21.00" lengthAdjust="spacingAndGlyphs">1.1</text>
<text class="st" x="664.20" y="323" textLength="49.00" lengthAdjust="spacingAndGlyphs">Azimuth</text>
<text class="st" x="769.70" y="323" textLength="21.00" lengthAdjust="spacingAndGlyphs">195</text>
<path d="M720.7,319.5 L723.5,318.5 L722.7,321.3 Z" fill="#2a2a2a"/><path d="M722.7,319.6 Q723.7,316.9 726.1,320.1" fill="none" stroke="#3c3c3c" stroke-width="0.95" stroke-linecap="round"/>
<text class="st it" x="12" y="572" textLength="7" lengthAdjust="spacingAndGlyphs">V</text>
<text class="st" x="19.4" y="575.6" style="font-size:10.4px" textLength="5.6" lengthAdjust="spacingAndGlyphs">h</text>
<text class="st it" x="33.00" y="572" textLength="7.00" lengthAdjust="spacingAndGlyphs">=</text>
<text class="st it" x="47.00" y="572" textLength="14.00" lengthAdjust="spacingAndGlyphs">52</text>
<text class="st it" x="68.00" y="572" textLength="7.00" lengthAdjust="spacingAndGlyphs">±</text>
<text class="st it" x="82.00" y="572" textLength="14.00" lengthAdjust="spacingAndGlyphs">53</text>
<text class="st" x="103.00" y="572" textLength="21.00" lengthAdjust="spacingAndGlyphs">m/s</text>
<text class="st it" x="12.00" y="592" textLength="49.00" lengthAdjust="spacingAndGlyphs">Compass</text>
<text class="st it" x="68.00" y="592" textLength="77.00" lengthAdjust="spacingAndGlyphs">coordinates</text>
<text class="st it" x="481" y="572" textLength="7" lengthAdjust="spacingAndGlyphs">V</text>
<text class="st" x="488.6" y="575.6" style="font-size:9.6px;font-weight:bold" textLength="5.2" lengthAdjust="spacingAndGlyphs">z</text>
<text class="st it" x="502.00" y="572" textLength="7.00" lengthAdjust="spacingAndGlyphs">=</text>
<text class="st it" x="516.00" y="572" textLength="7.00" lengthAdjust="spacingAndGlyphs">4</text>
<text class="st it" x="530.00" y="572" textLength="7.00" lengthAdjust="spacingAndGlyphs">±</text>
<text class="st it" x="544.00" y="572" textLength="7.00" lengthAdjust="spacingAndGlyphs">1</text>
<text class="st" x="558.00" y="572" textLength="21.00" lengthAdjust="spacingAndGlyphs">m/s</text>
<text class="st it" x="419.00" y="592" textLength="49.00" lengthAdjust="spacingAndGlyphs">Zenith:</text>
<text class="st it" x="475.00" y="592" textLength="21.00" lengthAdjust="spacingAndGlyphs">max</text>
<text class="st it" x="503.00" y="592" textLength="14.00" lengthAdjust="spacingAndGlyphs">40</text>
<text class="st it" x="516.2" y="591.2" style="font-size:12px">°</text>
<text class="st it" x="534.50" y="592" textLength="28.00" lengthAdjust="spacingAndGlyphs">step</text>
<text class="st it" x="569.50" y="592" textLength="7.00" lengthAdjust="spacingAndGlyphs">5</text>
<text class="st it" x="575.4" y="591.2" style="font-size:12px">°</text>
<rect x="593" y="341" width="15" height="242" fill="url(#cb)" shape-rendering="crispEdges"/>
<g shape-rendering="crispEdges" stroke="#000" stroke-width="1">
<line x1="608.5" y1="341" x2="608.5" y2="583"/>
<line x1="608" y1="341.5" x2="615" y2="341.5"/>
<line x1="608" y1="357.5" x2="615" y2="357.5"/>
<line x1="608" y1="383.5" x2="615" y2="383.5"/>
<line x1="608" y1="409.5" x2="615" y2="409.5"/>
<line x1="608" y1="435.5" x2="615" y2="435.5"/>
<line x1="608" y1="461.5" x2="615" y2="461.5"/>
<line x1="608" y1="488.5" x2="615" y2="488.5"/>
<line x1="608" y1="514.5" x2="615" y2="514.5"/>
<line x1="608" y1="540.5" x2="615" y2="540.5"/>
<line x1="608" y1="566.5" x2="615" y2="566.5"/>
<line x1="608" y1="582.5" x2="615" y2="582.5"/>
</g>
<text class="sb" x="617.3" y="345.0" font-size="11.2" textLength="19.4" lengthAdjust="spacingAndGlyphs">4.6</text>
<text class="sb" x="617.3" y="387.0" font-size="11.2" textLength="19.4" lengthAdjust="spacingAndGlyphs">3.0</text>
<text class="sb" x="617.3" y="413.0" font-size="11.2" textLength="19.4" lengthAdjust="spacingAndGlyphs">2.0</text>
<text class="sb" x="617.3" y="439.0" font-size="11.2" textLength="19.4" lengthAdjust="spacingAndGlyphs">1.0</text>
<text class="sb" x="617.3" y="465.0" font-size="11.2" textLength="7.8" lengthAdjust="spacingAndGlyphs">0</text>
<text class="sb" x="617.3" y="492.0" font-size="11.2" textLength="24" lengthAdjust="spacingAndGlyphs">-1.0</text>
<text class="sb" x="617.3" y="518.0" font-size="11.2" textLength="24" lengthAdjust="spacingAndGlyphs">-2.0</text>
<text class="sb" x="617.3" y="544.0" font-size="11.2" textLength="24" lengthAdjust="spacingAndGlyphs">-3.0</text>
<text class="sb" x="617.3" y="586.0" font-size="11.2" textLength="24" lengthAdjust="spacingAndGlyphs">-4.6</text>
<text class="sb" font-size="9.9" stroke="#000" stroke-width="0.25" transform="translate(657.3,491.8) rotate(-90)" textLength="53" lengthAdjust="spacingAndGlyphs">Doppler, Hz</text>
<path d="M668.8,402.4H676.7M672.75,398.3V406.2" fill="none" stroke="#0000f4" stroke-width="1.15"/>
<text class="sb" x="682.2" y="405.9" font-size="9.8" style="fill:#0000f0" textLength="45.2" lengthAdjust="spacingAndGlyphs">Positive</text>
<circle cx="672.9" cy="522.8" r="2.4" fill="none" stroke="#f00000" stroke-width="1.1"/>
<text class="sb" x="682.2" y="525.8" font-size="9.8" style="fill:#f00000" textLength="51" lengthAdjust="spacingAndGlyphs">Negative</text>
<text class="ss" x="654" y="592.9" font-size="9.9" textLength="90" lengthAdjust="spacingAndGlyphs">ShowSkymap v 1.0</text>
<text class="ss" x="753" y="592.9" font-size="9.9" textLength="40" lengthAdjust="spacingAndGlyphs">SD v 4.2</text>
</g>
</svg></body></html>
